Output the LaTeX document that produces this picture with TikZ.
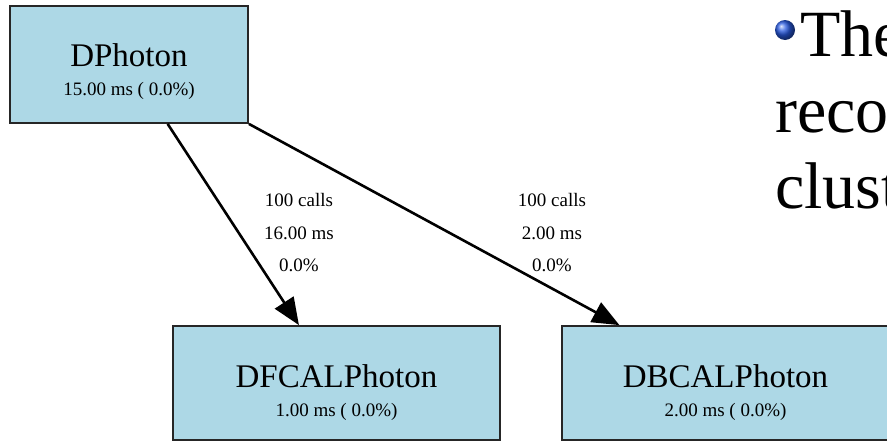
\documentclass[tikz,border=0pt]{standalone}
\usepackage{fontspec}
\setmainfont{Liberation Serif}
\usetikzlibrary{arrows.meta}
\definecolor{gvblue}{HTML}{ADD8E6}
\definecolor{ballblue}{RGB}{40,90,225}
\tikzset{
  fnbox/.style={draw=black!85, line width=1.8pt, fill=gvblue, inner sep=0pt},
  mainlbl/.style={anchor=base, font=\fontsize{33}{36}\selectfont, inner sep=0pt},
  smalllbl/.style={anchor=base, font=\fontsize{19}{21}\selectfont, inner sep=0pt},
  edgelbl/.style={anchor=base, font=\fontsize{19}{21}\selectfont, inner sep=0pt, align=center},
  calledge/.style={line width=2.6pt, -{Triangle[length=27pt,width=22pt]}},
  slidetxt/.style={anchor=base west, font=\fontsize{66}{70}\selectfont, inner sep=0pt}
}
\begin{document}
\begin{tikzpicture}[x=1pt,y=-1pt]
\useasboundingbox (0,0) rectangle (887,442);
% boxes
\node[fnbox, minimum width=238pt, minimum height=117pt] (dph) at (129,64.5) {};
\node[fnbox, minimum width=327pt, minimum height=114pt] (dfc) at (336.5,383) {};
\node[fnbox, minimum width=327pt, minimum height=114pt] (dbc) at (725.5,383) {};
% box labels
\node[mainlbl] (dphn) at (129,66) {DPhoton};
\node[smalllbl] (dpht) at (129,95) {15.00 ms ( 0.0\%)};
\node[mainlbl] (dfcn) at (336.5,387) {DFCALPhoton};
\node[smalllbl] (dfct) at (336.5,416) {1.00 ms ( 0.0\%)};
\node[mainlbl] (dbcn) at (725.5,387) {DBCALPhoton};
\node[smalllbl] (dbct) at (725.5,416) {2.00 ms ( 0.0\%)};
% edges
\draw[calledge] (dph) -- (dfc);
\draw[calledge] (dph.south east) -- (dbc);
% edge labels
\node[edgelbl] (e1a) at (299,206) {100 calls};
\node[edgelbl] (e1b) at (299,239) {16.00 ms};
\node[edgelbl] (e1c) at (299,271) {0.0\%};
\node[edgelbl] (e2a) at (552,206) {100 calls};
\node[edgelbl] (e2b) at (552,239) {2.00 ms};
\node[edgelbl] (e2c) at (552,271) {0.0\%};
% slide text
\shade[ball color=ballblue] (785pt,-30pt) circle (10pt);
\node[slidetxt] (t1) at (800,56) {The};
\node[slidetxt] (t2) at (775,132) {reco};
\node[slidetxt] (t3) at (775,208) {clust};
\end{tikzpicture}
\end{document}
